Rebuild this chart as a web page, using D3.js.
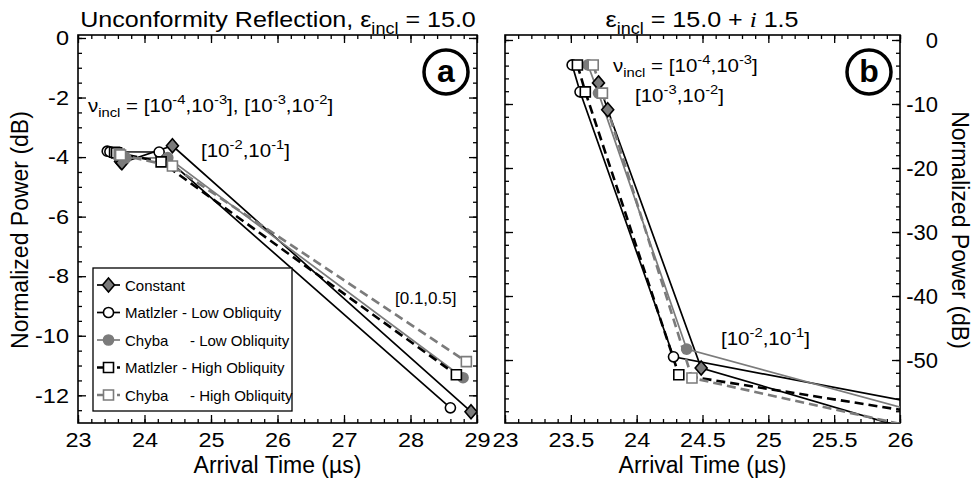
<!DOCTYPE html>
<html>
<head>
<meta charset="utf-8">
<script src="https://cdn.jsdelivr.net/npm/d3@7"></script>
<style>
body { margin:0; background:#fff; }
svg { font-family:"Liberation Sans", Arial, sans-serif; }
</style>
</head>
<body>
<div id="chart"></div>
<script>

// ---- data: arrival time (us) and normalized power (dB), one pair of arrays per series ----
// points: nu_incl = [1e-4,1e-3], [1e-3,1e-2], [1e-2,1e-1], [0.1,0.5]

// panel (a), eps_incl = 15.0
var aConstantT  = [23.64, 23.66, 24.42, 28.91];
var aConstantP  = [-4.15, -4.19, -3.62, -12.55];
var aMatLowT    = [23.44, 23.48, 24.22, 28.60];
var aMatLowP    = [-3.80, -3.82, -3.83, -12.42];
var aChyLowT    = [23.70, 23.72, 24.35, 28.79];
var aChyLowP    = [-4.00, -4.03, -4.02, -11.41];
var aMatHighT   = [23.55, 23.58, 24.25, 28.69];
var aMatHighP   = [-3.84, -3.86, -4.16, -11.31];
var aChyHighT   = [23.62, 23.64, 24.42, 28.84];
var aChyHighP   = [-3.90, -3.93, -4.30, -10.87];

// panel (b), eps_incl = 15.0 + i 1.5 (last point lies beyond the plotted range)
var bConstantT  = [23.71, 23.78, 24.49, 28.93];
var bConstantP  = [-6.7, -10.9, -51.25, -78.1];
var bMatLowT    = [23.51, 23.57, 24.28, 28.60];
var bMatLowP    = [-3.9, -8.1, -49.5, -66.4];
var bChyLowT    = [23.63, 23.71, 24.38, 28.78];
var bChyLowP    = [-3.9, -8.3, -48.3, -72.9];
var bMatHighT   = [23.55, 23.61, 24.32, 28.68];
var bMatHighP   = [-3.9, -8.1, -52.3, -66.5];
var bChyHighT   = [23.67, 23.74, 24.42, 28.84];
var bChyHighP   = [-3.9, -8.3, -52.8, -72.9];

// tick labels
var xTicksA = [23, 24, 25, 26, 27, 28, 29];
var yTicksA = [0, -2, -4, -6, -8, -10, -12];
var xTicksB = [23, 23.5, 24, 24.5, 25, 25.5, 26];
var yTicksB = [0, -10, -20, -30, -40, -50];

var legendNames    = ["Constant", "Matlzler", "Chyba", "Matlzler", "Chyba"];
var legendSuffixes = ["", "- Low Obliquity", "- Low Obliquity", "- High Obliquity", "- High Obliquity"];

// ---- styles ----
var GRAY = "#7b7b7b";
var styles = [
    { stroke:"#000", dash:null,  width:1.7, marker:"diamond", fill:GRAY,   mstroke:"#000" },
    { stroke:"#000", dash:null,  width:1.7, marker:"circle",  fill:"#fff", mstroke:"#000" },
    { stroke:GRAY,   dash:null,  width:1.7, marker:"circle",  fill:GRAY,   mstroke:GRAY },
    { stroke:"#000", dash:"9,5", width:2.6, marker:"square",  fill:"#fff", mstroke:"#000" },
    { stroke:GRAY,   dash:"9,5", width:2.6, marker:"square",  fill:"#fff", mstroke:GRAY }
];

function zip(t, p) {
    return t.map(function(d, i) { return [d, p[i]]; });
}

var seriesA = [zip(aConstantT, aConstantP), zip(aMatLowT, aMatLowP), zip(aChyLowT, aChyLowP),
               zip(aMatHighT, aMatHighP), zip(aChyHighT, aChyHighP)];
var seriesB = [zip(bConstantT, bConstantP), zip(bMatLowT, bMatLowP), zip(bChyLowT, bChyLowP),
               zip(bMatHighT, bMatHighP), zip(bChyHighT, bChyHighP)];

var svg = d3.select("#chart").append("svg").attr("width", 974).attr("height", 481);

// the original lettering is a bit wider than Liberation Sans: stretch around each text's anchor
function hstretch(sel, sx) {
    sel.each(function() {
        var t = d3.select(this);
        var x = +t.attr("x") || 0, y = +t.attr("y") || 0;
        t.attr("transform", "translate(" + x + "," + y + ") scale(" + sx + ",1) translate(" + (-x) + "," + (-y) + ")");
    });
}

function addMarker(g, type, x, y, st) {
    var m;
    if (type == "circle")
        m = g.append("path").attr("d", d3.symbol().type(d3.symbolCircle).size(80)());
    else if (type == "square")
        m = g.append("path").attr("d", d3.symbol().type(d3.symbolSquare).size(100)());
    else
        m = g.append("path").attr("d", "M0,-7L6,0L0,7L-6,0Z");
    m.attr("transform", "translate(" + x + "," + y + ")")
     .attr("fill", st.fill)
     .attr("stroke", st.mstroke)
     .attr("stroke-width", 1.6);
}

// rich text: parts = [[text, "sup"|"sub"|"it"|null], ...]
function rich(g, x, y, size, parts, anchor) {
    var t = g.append("text").attr("x", x).attr("y", y)
        .attr("font-size", size).attr("text-anchor", anchor || "start");
    var shift = 0;
    parts.forEach(function(p) {
        var ts = t.append("tspan").text(p[0]);
        var want = p[1] == "sup" ? -0.42 * size : (p[1] == "sub" ? 0.3 * size : 0);
        if (want != shift) ts.attr("dy", want - shift);
        shift = want;
        if (p[1] == "sup" || p[1] == "sub") ts.attr("font-size", size * 0.72);
        if (p[1] == "it") ts.attr("font-family", "Liberation Serif, serif").attr("font-style", "italic");
    });
    return t;
}

function range(a, b, s) {
    var out = [];
    for (var v = a; v <= b + 1e-9; v += s) out.push(+v.toFixed(4));
    return out;
}

function panel(p) {
    var g = svg.append("g");
    var x = d3.scaleLinear().domain(p.xDom).range([p.x0, p.x1]);
    var y = d3.scaleLinear().domain(p.yDom).range([p.y0, p.y1]);
    var fmt = function(d) { return String(d); };

    var clipId = "clip" + p.id;
    svg.append("clipPath").attr("id", clipId).append("rect")
        .attr("x", p.x0).attr("y", p.y0).attr("width", p.x1 - p.x0).attr("height", p.y1 - p.y0);

    // ticks (inward on all four sides)
    var xMinor = range(p.xDom[0], p.xDom[1], p.xMinor);
    var yMinor = range(Math.ceil(p.yDom[1] / p.yMinor) * p.yMinor, 0, p.yMinor);

    function ax(axis, tx, ty, vals, size, labels) {
        var a = g.append("g").attr("transform", "translate(" + tx + "," + ty + ")")
            .call(axis.tickValues(vals).tickSize(size).tickPadding(9)
                .tickFormat(labels ? fmt : ""));
        a.select(".domain").remove();
        a.selectAll("line").attr("stroke-width", 1.3);
        a.selectAll("text").attr("font-size", 21).attr("font-family", "Liberation Sans, Arial, sans-serif")
            .attr("fill", "#000");
        return a;
    }
    ax(d3.axisBottom(x), 0, p.y1, xMinor, -4, false);
    var ba = ax(d3.axisBottom(x), 0, p.y1, p.xTicks, -8, true);
    ax(d3.axisTop(x), 0, p.y0, xMinor, -4, false);
    ax(d3.axisTop(x), 0, p.y0, p.xTicks, -8, false);
    ax(d3.axisLeft(y), p.x0, 0, yMinor, -4, false);
    var la = ax(d3.axisLeft(y), p.x0, 0, p.yTicks, -8, p.labelSide == "left");
    ax(d3.axisRight(y), p.x1, 0, yMinor, -4, false);
    var ra = ax(d3.axisRight(y), p.x1, 0, p.yTicks, -8, p.labelSide == "right");
    hstretch(ba.selectAll("text"), 1.12);
    if (p.labelSide == "left") hstretch(la.selectAll("text"), 1.12);
    if (p.labelSide == "right")
        ra.selectAll("text").attr("text-anchor", "end").attr("x", 38).attr("font-size", 22);

    // frame
    g.append("rect").attr("x", p.x0).attr("y", p.y0)
        .attr("width", p.x1 - p.x0).attr("height", p.y1 - p.y0)
        .attr("fill", "none").attr("stroke", "#000").attr("stroke-width", 1.6);

    // series
    var plot = g.append("g").attr("clip-path", "url(#" + clipId + ")");
    var line = d3.line().x(function(d) { return x(d[0]); }).y(function(d) { return y(d[1]); });
    p.series.forEach(function(s, i) {
        var st = styles[i];
        plot.append("path").datum(s).attr("d", line)
            .attr("fill", "none").attr("stroke", st.stroke)
            .attr("stroke-width", st.width)
            .attr("stroke-dasharray", st.dash);
    });
    p.series.forEach(function(s, i) {
        s.forEach(function(d) {
            addMarker(plot, styles[i].marker, x(d[0]), y(d[1]), styles[i]);
        });
    });

    // panel letter
    g.append("circle").attr("cx", p.letterX).attr("cy", 72).attr("r", 22)
        .attr("fill", "#fff").attr("stroke", "#000").attr("stroke-width", 3.5);
    g.append("text").attr("x", p.letterX).attr("y", 82).attr("text-anchor", "middle")
        .attr("font-size", 32).attr("font-weight", "bold").text(p.letter);

    // axis title
    g.append("text").attr("x", (p.x0 + p.x1) / 2).attr("y", 473).attr("text-anchor", "middle")
        .attr("font-size", 23).text("Arrival Time (\u00b5s)");
    return g;
}

var ga = panel({
    id:"a", x0:78, x1:477, y0:35, y1:423, xDom:[23, 29], yDom:[0.1, -12.93],
    xTicks:xTicksA, yTicks:yTicksA, xMinor:0.2, yMinor:0.5, labelSide:"left",
    series:seriesA, letter:"a", letterX:446
});
var gb = panel({
    id:"b", x0:505, x1:900, y0:35, y1:423, xDom:[23, 26], yDom:[0.78, -59.84],
    xTicks:xTicksB, yTicks:yTicksB, xMinor:0.1, yMinor:2, labelSide:"right",
    series:seriesB, letter:"b", letterX:869
});

// titles
hstretch(rich(svg, 278, 27, 22, [["Unconformity Reflection, \u03b5", null], ["incl", "sub"], [" = 15.0", null]], "middle"), 1.14);
hstretch(rich(svg, 702, 27, 22, [["\u03b5", null], ["incl", "sub"], [" = 15.0 + ", null], ["i", "it"], [" 1.5", null]], "middle"), 1.14);

// y titles
svg.append("text").attr("transform", "translate(28,230) rotate(-90)").attr("text-anchor", "middle")
    .attr("font-size", 23).text("Normalized Power (dB)");
svg.append("text").attr("transform", "translate(952,230) rotate(90)").attr("text-anchor", "middle")
    .attr("font-size", 23).text("Normalized Power (dB)");

// annotations
var notes = svg.append("g");
rich(notes, 88, 112, 18, [["\u03bd", null], ["incl", "sub"], [" = [10", null], ["-4", "sup"], [",10", null],
    ["-3", "sup"], ["], [10", null], ["-3", "sup"], [",10", null], ["-2", "sup"], ["]", null]]);
rich(notes, 201, 157, 18, [["[10", null], ["-2", "sup"], [",10", null], ["-1", "sup"], ["]", null]]);
rich(notes, 613, 72, 18, [["\u03bd", null], ["incl", "sub"], [" = [10", null], ["-4", "sup"], [",10", null],
    ["-3", "sup"], ["]", null]]);
rich(notes, 635, 102, 18, [["[10", null], ["-3", "sup"], [",10", null], ["-2", "sup"], ["]", null]]);
rich(notes, 721, 345, 18, [["[10", null], ["-2", "sup"], [",10", null], ["-1", "sup"], ["]", null]]);
hstretch(notes.selectAll("text"), 1.14);
rich(svg, 395, 304, 17, [["[0.1,0.5]", null]]);

// legend
var lg = svg.append("g");
lg.append("rect").attr("x", 93).attr("y", 268).attr("width", 199).attr("height", 143)
    .attr("fill", "#fff").attr("stroke", "#000").attr("stroke-width", 1.3);
legendNames.forEach(function(name, i) {
    var st = styles[i];
    var yy = 285 + i * 27.5;
    lg.append("line").attr("x1", 97).attr("x2", 120).attr("y1", yy).attr("y2", yy)
        .attr("stroke", st.stroke).attr("stroke-width", st.width).attr("stroke-dasharray", st.dash ? "6,4" : null);
    addMarker(lg, st.marker, 108.5, yy, st);
    lg.append("text").attr("x", 125).attr("y", yy + 5.5).attr("font-size", 15).text(name);
    if (legendSuffixes[i])
        lg.append("text").attr("x", name == "Chyba" ? 190 : 182).attr("y", yy + 5.5)
            .attr("font-size", 15).text(legendSuffixes[i]);
});

</script>
</body>
</html>
